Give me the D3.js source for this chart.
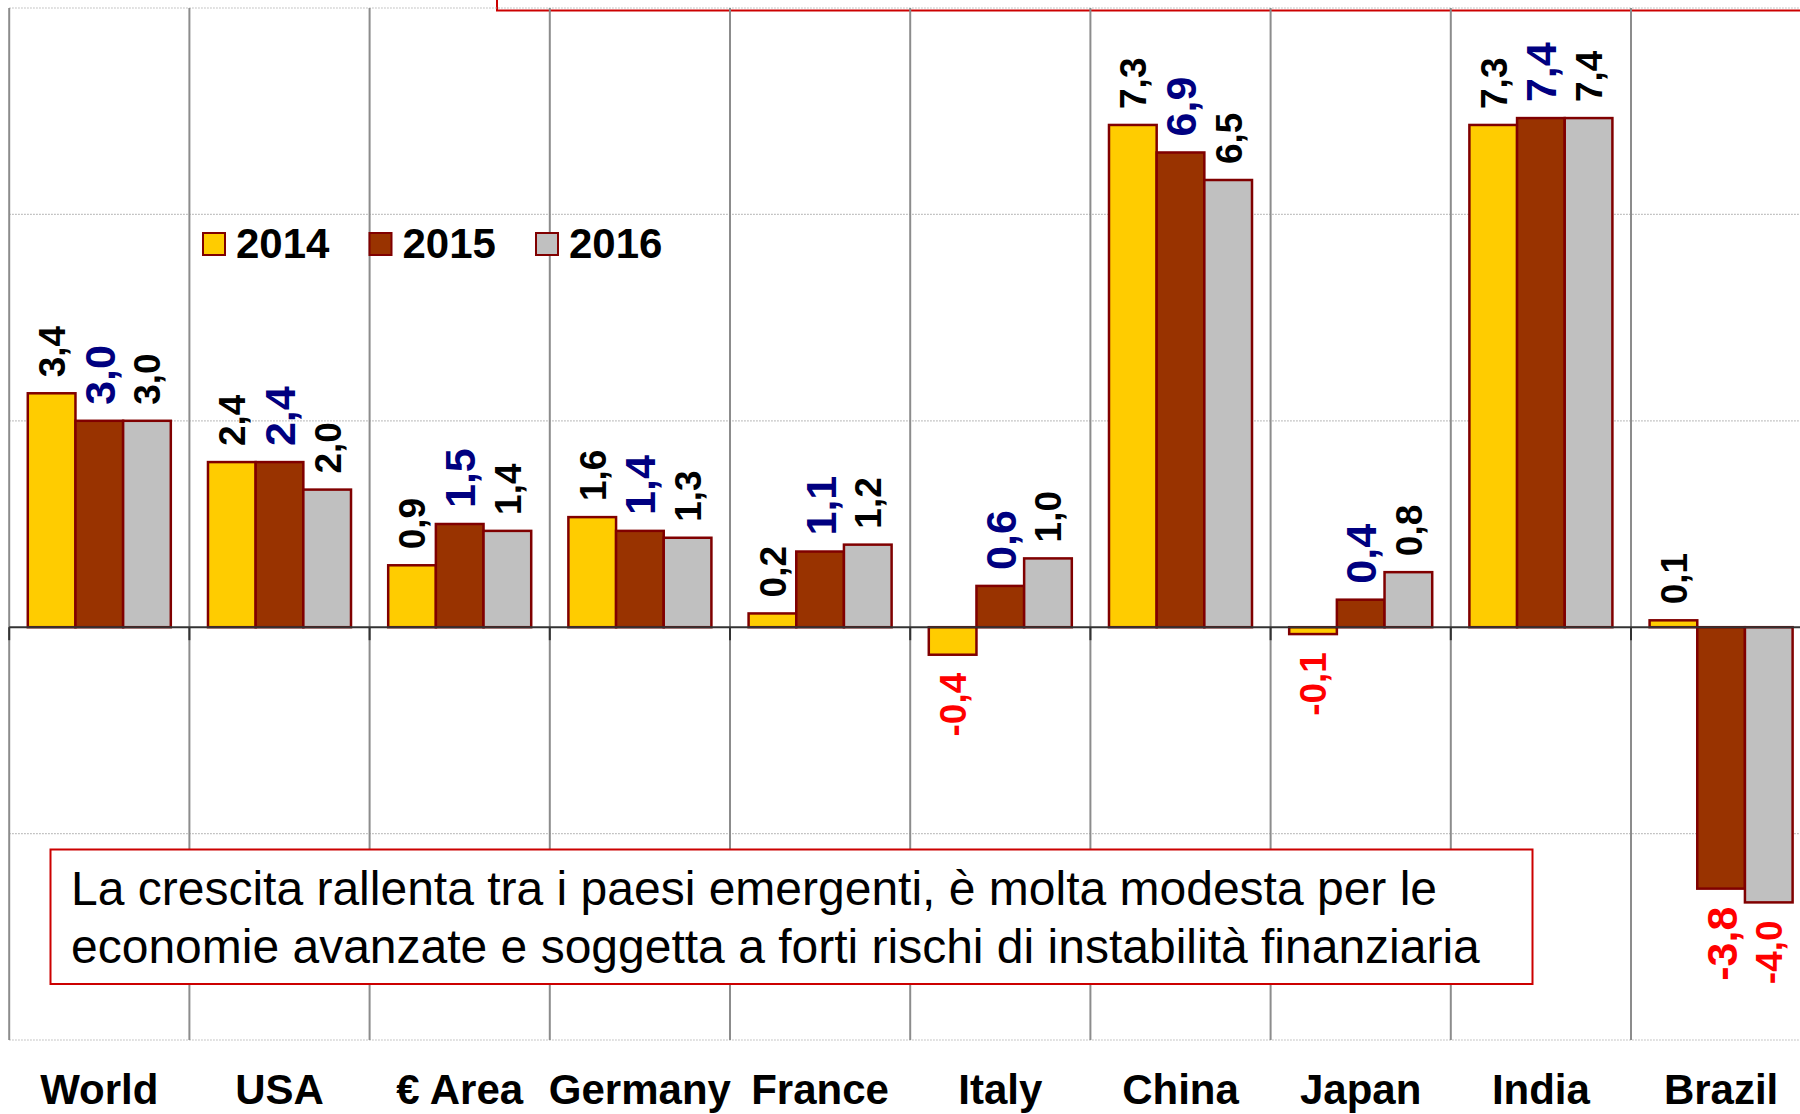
<!DOCTYPE html>
<html>
<head>
<meta charset="utf-8">
<script src="https://cdn.jsdelivr.net/npm/d3@7"></script>
<style>
  html, body { margin: 0; padding: 0; background: #fff; }
  svg { display: block; font-family: "Liberation Sans", Arial, sans-serif; }
</style>
</head>
<body>
<svg id="chart" width="1800" height="1114"></svg>
<script>
const categories = ['World', 'USA', '€ Area', 'Germany', 'France', 'Italy', 'China', 'Japan', 'India', 'Brazil'];
const years = ['2014', '2015', '2016'];
const values2014 = [3.4, 2.4, 0.9, 1.6, 0.2, -0.4, 7.3, -0.1, 7.3, 0.1];
const values2015 = [3.0, 2.4, 1.5, 1.4, 1.1, 0.6, 6.9, 0.4, 7.4, -3.8];
const values2016 = [3.0, 2.0, 1.4, 1.3, 1.2, 1.0, 6.5, 0.8, 7.4, -4.0];
const yTicks = [-6, -3, 0, 3, 6, 9];
const noteLines = [
    'La crescita rallenta tra i paesi emergenti, è molta modesta per le',
    'economie avanzate e soggetta a forti rischi di instabilità finanziaria'
];

const fills = { '2014': '#FFCC00', '2015': '#993300', '2016': '#C0C0C0' };
const series = { '2014': values2014, '2015': values2015, '2016': values2016 };

const rows = categories.map((c, i) => ({
    cat: c,
    bars: years.map(y => ({ cat: c, year: y, value: series[y][i] }))
}));

const svg = d3.select('#chart');

const left = 9.2, catW = 180.2;
const x = d3.scaleBand()
    .domain(categories)
    .range([left, left + catW * categories.length]);
const xSub = d3.scaleBand()
    .domain(years)
    .range([0, x.bandwidth()])
    .paddingOuter(0.39);
const y = d3.scaleLinear()
    .domain([-6, 9])
    .range([1040, 8]);

const fmt = d3.formatLocale({ decimal: ',', thousands: '.', grouping: [3], currency: ['', '€'], minus: '-' }).format('.1f');

// box edge peeking in at the top
svg.append('rect')
    .attr('x', 497).attr('y', -30)
    .attr('width', 1400).attr('height', 40.5)
    .attr('fill', 'none')
    .attr('stroke', '#CC0000')
    .attr('stroke-width', 2);

// horizontal grid
svg.append('g')
    .selectAll('line')
    .data(yTicks.filter(t => t !== 0))
    .join('line')
    .attr('x1', left).attr('x2', 1800)
    .attr('y1', d => y(d)).attr('y2', d => y(d))
    .attr('stroke', '#b4b4b4')
    .attr('stroke-width', 1.2)
    .attr('stroke-dasharray', '1.5,1.5');

// category separators
svg.append('g')
    .selectAll('line')
    .data(categories)
    .join('line')
    .attr('x1', d => x(d)).attr('x2', d => x(d))
    .attr('y1', y(9)).attr('y2', y(-6))
    .attr('stroke', '#8c8c8c')
    .attr('stroke-width', 2);

// bars
const group = svg.append('g')
    .selectAll('g')
    .data(rows)
    .join('g')
    .attr('transform', d => `translate(${x(d.cat)},0)`);

group.selectAll('rect')
    .data(d => d.bars)
    .join('rect')
    .attr('x', d => xSub(d.year))
    .attr('width', xSub.bandwidth())
    .attr('y', d => y(Math.max(0, d.value)))
    .attr('height', d => Math.abs(y(d.value) - y(0)))
    .attr('fill', d => fills[d.year])
    .attr('stroke', '#800000')
    .attr('stroke-width', 2.5);

// zero axis with ticks
svg.append('line')
    .attr('x1', left).attr('x2', 1800)
    .attr('y1', y(0)).attr('y2', y(0))
    .attr('stroke', '#333')
    .attr('stroke-width', 2);

svg.append('g')
    .selectAll('line')
    .data(categories)
    .join('line')
    .attr('x1', d => x(d)).attr('x2', d => x(d))
    .attr('y1', y(0)).attr('y2', y(0) + 13)
    .attr('stroke', '#333')
    .attr('stroke-width', 2);

// value labels, rotated (2015 ones are set larger)
group.selectAll('text')
    .data(d => d.bars)
    .join('text')
    .attr('transform', d => {
        const cx = xSub(d.year) + xSub.bandwidth() / 2;
        const ty = d.value >= 0 ? y(d.value) - 16 : y(d.value) + 18;
        return `translate(${cx},${ty}) rotate(-90)`;
    })
    .attr('dy', '0.36em')
    .attr('text-anchor', d => d.value >= 0 ? 'start' : 'end')
    .attr('font-size', d => d.year === '2015' ? 43 : 37)
    .attr('font-weight', 'bold')
    .attr('fill', d => d.value < 0 ? '#FF0000' : (d.year === '2015' ? '#000080' : '#000'))
    .text(d => fmt(d.value));

// category labels
svg.append('g')
    .selectAll('text')
    .data(categories)
    .join('text')
    .attr('x', d => x(d) + x.bandwidth() / 2)
    .attr('y', 1104)
    .attr('text-anchor', 'middle')
    .attr('font-size', 42)
    .attr('font-weight', 'bold')
    .attr('fill', '#000')
    .text(d => d);

// legend
const legend = svg.append('g')
    .selectAll('g')
    .data(years)
    .join('g')
    .attr('transform', (d, i) => `translate(${203 + i * 166.5},233)`);

legend.append('rect')
    .attr('width', 22).attr('height', 22)
    .attr('fill', d => fills[d])
    .attr('stroke', '#800000')
    .attr('stroke-width', 2);

legend.append('text')
    .attr('x', 33).attr('y', 25)
    .attr('font-size', 42)
    .attr('font-weight', 'bold')
    .text(d => d);

// note box
const note = svg.append('g');
note.append('rect')
    .attr('x', 50.5).attr('y', 849.5)
    .attr('width', 1482).attr('height', 134.5)
    .attr('fill', '#fff')
    .attr('stroke', '#CC0000')
    .attr('stroke-width', 2);

note.selectAll('text')
    .data(noteLines)
    .join('text')
    .attr('x', 71)
    .attr('y', (d, i) => 905 + i * 58)
    .attr('font-size', 48)
    .attr('fill', '#000')
    .text(d => d);
</script>
</body>
</html>
